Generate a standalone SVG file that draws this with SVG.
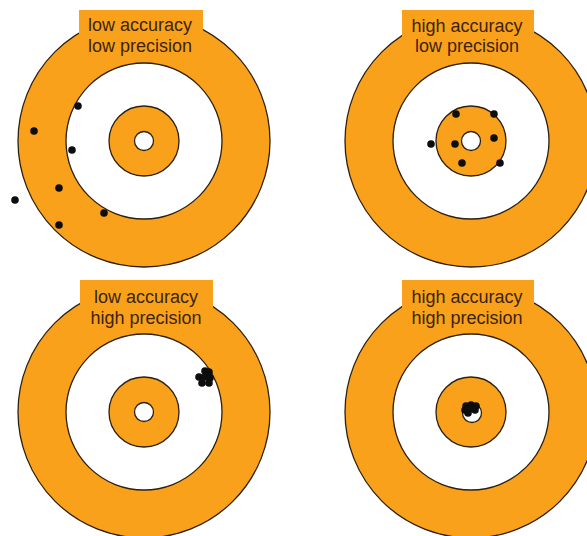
<svg xmlns="http://www.w3.org/2000/svg" width="587" height="536" viewBox="0 0 587 536">
<style>
.o{fill:#F9A11A;stroke:#2e2010;stroke-width:1.3}
.w{fill:#ffffff;stroke:#2e2010;stroke-width:1.3}
.lab{fill:#F9A11A;stroke:none}
.t{font-family:"Liberation Sans",Arial,sans-serif;font-size:18px;fill:#3b2410;text-anchor:middle}
.d{fill:#0d0d0d}
</style>
<rect width="587" height="536" fill="#ffffff"/>
<g id="target-low-low">
<circle class="o" cx="144" cy="141" r="126"/>
<circle class="w" cx="144" cy="141" r="78"/>
<circle class="o" cx="144" cy="141" r="35"/>
<circle class="w" cx="144" cy="141" r="9.5"/>
<rect class="lab" x="79" y="10" width="124" height="48"/>
<text class="t" x="140" y="31">low accuracy</text>
<text class="t" x="140" y="52">low precision</text>
<circle class="d" cx="78" cy="106" r="3.8"/>
<circle class="d" cx="34" cy="131" r="3.8"/>
<circle class="d" cx="72" cy="150" r="3.8"/>
<circle class="d" cx="59" cy="188" r="3.8"/>
<circle class="d" cx="15" cy="200" r="3.8"/>
<circle class="d" cx="104" cy="213" r="3.8"/>
<circle class="d" cx="59" cy="225" r="3.8"/>
</g>
<g id="target-high-low">
<circle class="o" cx="471" cy="141" r="126"/>
<circle class="w" cx="471" cy="141" r="78"/>
<circle class="o" cx="471" cy="141" r="35"/>
<circle class="w" cx="471" cy="141" r="9.5"/>
<rect class="lab" x="402" y="10" width="132" height="48"/>
<text class="t" x="467" y="32">high accuracy</text>
<text class="t" x="467" y="52">low precision</text>
<circle class="d" cx="456" cy="114" r="3.8"/>
<circle class="d" cx="494" cy="114" r="3.8"/>
<circle class="d" cx="431" cy="144" r="3.8"/>
<circle class="d" cx="455" cy="144" r="3.8"/>
<circle class="d" cx="494" cy="138" r="3.8"/>
<circle class="d" cx="462" cy="163" r="3.8"/>
<circle class="d" cx="500" cy="163" r="3.8"/>
</g>
<g id="target-low-high">
<circle class="o" cx="144" cy="412" r="126"/>
<circle class="w" cx="144" cy="412" r="78"/>
<circle class="o" cx="144" cy="412" r="35"/>
<circle class="w" cx="144" cy="412" r="9.5"/>
<rect class="lab" x="80" y="280" width="133" height="48"/>
<text class="t" x="146" y="303">low accuracy</text>
<text class="t" x="146" y="324">high precision</text>
<circle class="d" cx="205" cy="371" r="3.8"/>
<circle class="d" cx="209" cy="372" r="3.8"/>
<circle class="d" cx="199" cy="377" r="3.8"/>
<circle class="d" cx="205" cy="377" r="3.8"/>
<circle class="d" cx="210" cy="378" r="3.8"/>
<circle class="d" cx="202" cy="383" r="3.8"/>
<circle class="d" cx="209" cy="383" r="3.8"/>
</g>
<g id="target-high-high">
<circle class="o" cx="471" cy="412" r="126"/>
<circle class="w" cx="471" cy="412" r="78"/>
<circle class="o" cx="471" cy="412" r="35"/>
<circle class="w" cx="472" cy="413" r="9.5"/>
<rect class="lab" x="402" y="280" width="132" height="48"/>
<text class="t" x="467" y="303">high accuracy</text>
<text class="t" x="467" y="324">high precision</text>
<circle class="d" cx="466" cy="406" r="3.8"/>
<circle class="d" cx="471" cy="405" r="3.8"/>
<circle class="d" cx="476" cy="406" r="3.8"/>
<circle class="d" cx="465" cy="410" r="3.8"/>
<circle class="d" cx="470" cy="409" r="3.8"/>
<circle class="d" cx="475" cy="410" r="3.8"/>
<circle class="d" cx="468" cy="413" r="3.8"/>
</g>
</svg>
